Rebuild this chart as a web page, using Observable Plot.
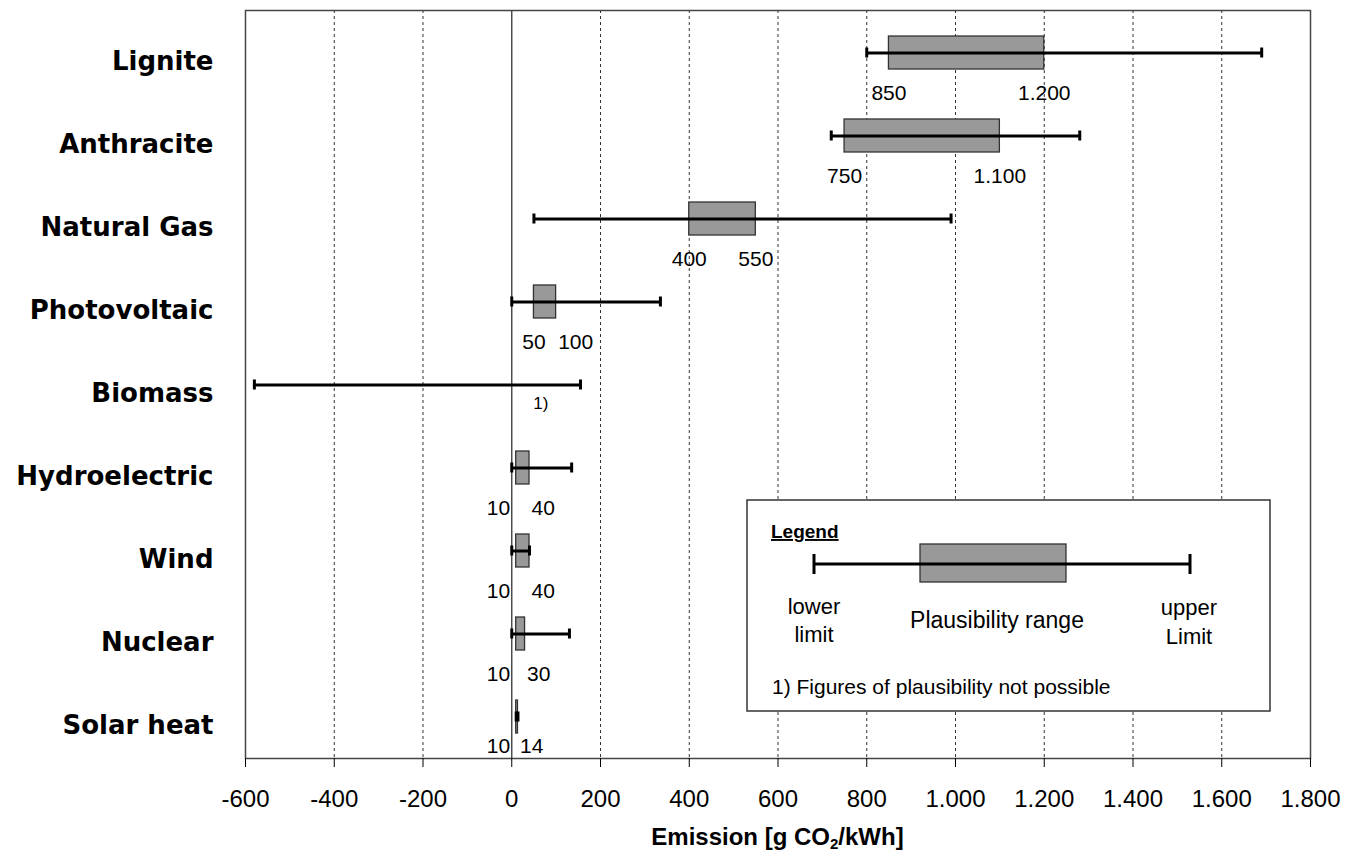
<!DOCTYPE html>
<html>
<head>
<meta charset="utf-8">
<script src="https://cdn.jsdelivr.net/npm/d3@7"></script>
<script src="https://cdn.jsdelivr.net/npm/@observablehq/plot@0.6"></script>
<style>
  html, body { margin: 0; padding: 0; background: #fff; }
  #chart svg { display: block; }
</style>
</head>
<body>
<div id="chart"></div>
<script>
// ---- data ----
const categories = ["Lignite", "Anthracite", "Natural Gas", "Photovoltaic", "Biomass", "Hydroelectric", "Wind", "Nuclear", "Solar heat"];
const lowerLimit = [800, 720, 50, 0, -580, 0, 0, 0, 10];
const upperLimit = [1690, 1280, 990, 335, 155, 135, 40, 130, 14];
const rangeLow  = [850, 750, 400, 50, null, 10, 10, 10, 10];
const rangeHigh = [1200, 1100, 550, 100, null, 40, 40, 30, 14];
const notes = ["", "", "", "", "1)", "", "", "", ""];
const xTicks = [-600, -400, -200, 0, 200, 400, 600, 800, 1000, 1200, 1400, 1600, 1800];

const rows = categories.map((c, i) => ({
  cat: c, lo: lowerLimit[i], hi: upperLimit[i], rlo: rangeLow[i], rhi: rangeHigh[i], note: notes[i]
}));
const lastCat = categories[categories.length - 1];
const boxed = rows.filter(d => d.rlo != null);

const locale = d3.formatLocale({decimal: ",", thousands: ".", grouping: [3], currency: ["", ""], minus: "-"});
const fmt = locale.format(",d");

const FONT = "'Liberation Sans', Arial, sans-serif";

// value labels: low and high ends of the plausibility range
function rangeLabels(data, dy) {
  const base = {y: "cat", fontSize: 21, fontFamily: FONT, fill: "#000", dy};
  return [
    Plot.text(data.filter(d => d.rhi - d.rlo >= 50), {x: "rlo", text: d => fmt(d.rlo), textAnchor: "middle", ...base}),
    Plot.text(data.filter(d => d.rhi - d.rlo < 50), {x: "rlo", text: d => fmt(d.rlo), textAnchor: "end", dx: -6, ...base}),
    Plot.text(data.filter(d => d.rhi - d.rlo >= 100), {x: "rhi", text: d => fmt(d.rhi), textAnchor: "middle", ...base}),
    Plot.text(data.filter(d => d.rhi - d.rlo < 100), {x: "rhi", text: d => fmt(d.rhi), textAnchor: "start", dx: 2, ...base})
  ];
}

const chart = Plot.plot({
  width: 1346,
  height: 855,
  marginLeft: 245,
  marginRight: 36,
  marginTop: 10,
  marginBottom: 97,
  style: {fontFamily: FONT, background: "white", color: "black"},
  x: {domain: [-600, 1800]},
  y: {domain: categories, padding: 0},
  marks: [
    Plot.ruleX(xTicks.filter(v => v !== 0 && v > -600 && v < 1800), {stroke: "#333", strokeWidth: 1, strokeDasharray: "3,3"}),
    Plot.ruleX([0], {stroke: "#444", strokeWidth: 1.4}),
    Plot.frame({stroke: "#444", strokeWidth: 1.5}),
    Plot.barX(boxed, {x1: "rlo", x2: "rhi", y: "cat", fill: "#999999", stroke: "#333", strokeWidth: 1.3, insetTop: 25, insetBottom: 25}),
    Plot.ruleY(rows, {x1: "lo", x2: "hi", y: "cat", stroke: "#000", strokeWidth: 3}),
    Plot.tickX(rows, {x: "lo", y: "cat", stroke: "#000", strokeWidth: 3, insetTop: 36.5, insetBottom: 36.5}),
    Plot.tickX(rows, {x: "hi", y: "cat", stroke: "#000", strokeWidth: 3, insetTop: 36.5, insetBottom: 36.5}),
    ...rangeLabels(boxed.filter(d => d.cat !== lastCat), 40),
    ...rangeLabels(boxed.filter(d => d.cat === lastCat), 29),
    Plot.text(rows.filter(d => d.note), {x: 0, y: "cat", text: "note", fontSize: 17, fontFamily: FONT, fill: "#000", dx: 29, dy: 19}),
    Plot.axisX({ticks: xTicks, tickFormat: fmt, tickSize: 9, tickPadding: 22, fontSize: 24, fontFamily: FONT, label: null}),
    Plot.axisY({tickSize: 0, tickPadding: 32, fontSize: 26, fontWeight: "bold", fontFamily: "'DejaVu Sans', Verdana, sans-serif", dy: 9, label: null})
  ]
});

document.getElementById("chart").appendChild(chart);

// ---- axis title with subscript ----
const svg = d3.select(chart);
const title = svg.append("text")
  .attr("x", (245 + 1310) / 2)
  .attr("y", 845)
  .attr("text-anchor", "middle")
  .attr("font-family", FONT)
  .attr("font-weight", "bold")
  .attr("font-size", 24)
  .attr("fill", "#000");
title.append("tspan").text("Emission [g CO");
title.append("tspan").attr("font-size", 15).attr("dy", 4).text("2");
title.append("tspan").attr("dy", -4).text("/kWh]");

// ---- legend ----
const lg = svg.append("g").attr("font-family", FONT).attr("fill", "#000").attr("text-anchor", "start");
lg.append("rect").attr("x", 747).attr("y", 500).attr("width", 523).attr("height", 211)
  .attr("fill", "#fff").attr("stroke", "#333").attr("stroke-width", 1.5);
lg.append("text").attr("x", 771).attr("y", 538).attr("font-size", 19).attr("font-weight", "bold")
  .attr("text-anchor", "start").attr("text-decoration", "underline").text("Legend");
lg.append("rect").attr("x", 920).attr("y", 544).attr("width", 146).attr("height", 38)
  .attr("fill", "#999999").attr("stroke", "#333").attr("stroke-width", 1.3);
lg.append("line").attr("x1", 814).attr("x2", 1190).attr("y1", 564).attr("y2", 564)
  .attr("stroke", "#000").attr("stroke-width", 3);
[814, 1190].forEach(x => lg.append("line").attr("x1", x).attr("x2", x).attr("y1", 554).attr("y2", 574)
  .attr("stroke", "#000").attr("stroke-width", 3));
const lgText = (x, y, t, size) => lg.append("text").attr("x", x).attr("y", y).attr("text-anchor", "middle")
  .attr("font-size", size).attr("dominant-baseline", "middle").text(t);
lgText(814, 608, "lower", 22);
lgText(814, 636, "limit", 22);
lgText(997, 622, "Plausibility range", 23);
lgText(1189, 609, "upper", 22);
lgText(1189, 638, "Limit", 22);
lg.append("text").attr("x", 772).attr("y", 694).attr("font-size", 21).attr("text-anchor", "start")
  .text("1) Figures of plausibility not possible");
</script>
</body>
</html>
